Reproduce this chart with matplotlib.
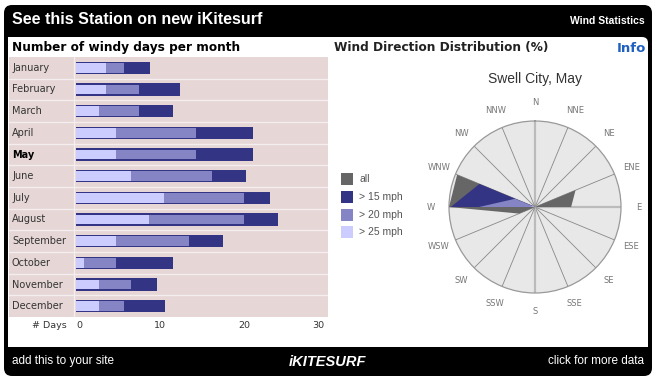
import numpy as np
import matplotlib.pyplot as plt
from matplotlib.patches import FancyBboxPatch, Rectangle

# --- datos: dias ventosos por mes (barras anidadas) ---
meses = ["January", "February", "March", "April", "May", "June", "July",
         "August", "September", "October", "November", "December"]
dias_15 = [8.8, 12.4, 11.5, 21.1, 21.1, 20.2, 23.1, 24.1, 17.5, 11.5, 9.7, 10.6]
dias_20 = [5.7, 7.5, 7.5, 14.3, 14.3, 16.2, 20.0, 20.0, 13.5, 4.8, 6.5, 5.7]
dias_25 = [3.6, 3.6, 2.7, 4.8, 4.8, 6.5, 10.5, 8.7, 4.8, 1.0, 2.7, 2.7]
mes_sel = "May"
ticks_dias = [0, 10, 20, 30]

# --- datos: rosa de vientos (fraccion del radio) ---
direcciones = ["N", "NNE", "NE", "ENE", "E", "ESE", "SE", "SSE",
               "S", "SSW", "SW", "WSW", "W", "WNW", "NW", "NNW"]
rosa_all = [0, 0, 0, 0.51, 0.42, 0, 0, 0, 0, 0, 0, 0.20, 1.0, 0.98, 0, 0]
rosa_15 = [0, 0, 0, 0, 0, 0, 0, 0, 0, 0, 0, 0, 0.98, 0.70, 0, 0]
rosa_20 = [0, 0, 0, 0, 0, 0, 0, 0, 0, 0, 0, 0, 0.65, 0.25, 0, 0]
rosa_25 = [0, 0, 0, 0, 0, 0, 0, 0, 0, 0, 0, 0, 0.06, 0.02, 0, 0]

C_OSC = "#343485"
C_MED = "#8585c6"
C_CLA = "#ccccff"
C_ALL = "#666666"

W, H = 656, 381
fig = plt.figure(figsize=(W / 100, H / 100), dpi=100)


def caja(x0, y0, x1, y1):
    # pixeles (origen arriba-izq) -> fraccion de figura
    return [x0 / W, 1 - y1 / H, (x1 - x0) / W, (y1 - y0) / H]


fondo = fig.add_axes([0, 0, 1, 1])
fondo.set_xlim(0, W)
fondo.set_ylim(H, 0)
fondo.axis("off")
fondo.add_patch(FancyBboxPatch((7, 8), W - 14, H - 16, boxstyle="round,pad=3,rounding_size=8",
                               fc="black", ec="none"))
fondo.add_patch(FancyBboxPatch((8, 37), 640, 310, boxstyle="round,pad=0,rounding_size=6",
                               fc="white", ec="none"))
fondo.add_patch(Rectangle((8, 37), 20, 20, fc="white", ec="none"))
fondo.add_patch(Rectangle((8, 330), 640, 17, fc="white", ec="none"))

fondo.text(12, 20, "See this Station on new iKitesurf", color="white", fontsize=11.5,
           fontweight="bold", family="Liberation Sans", va="center")
fondo.text(645, 21, "Wind Statistics", color="white", fontsize=7.5,
           fontweight="bold", family="Liberation Sans", va="center", ha="right")
fondo.text(12, 361, "add this to your site", color="white", fontsize=8.5,
           family="Liberation Sans", va="center")
fondo.text(644, 361, "click for more data", color="white", fontsize=8.5,
           family="Liberation Sans", va="center", ha="right")
fondo.text(327, 362, "iKITESURF", color="white", fontsize=10.5, fontweight="heavy",
           style="italic", family="Liberation Sans", va="center", ha="center")

fondo.text(12, 48, "Number of windy days per month", color="black", fontsize=8.7,
           fontweight="bold", family="DejaVu Sans", va="center")
fondo.text(334, 48, "Wind Direction Distribution (%)", color="#222222", fontsize=8.75,
           fontweight="bold", family="DejaVu Sans", va="center")
fondo.text(646, 48, "Info", color="#2060c0", fontsize=9.5,
           fontweight="bold", family="DejaVu Sans", va="center", ha="right")

# --- panel de barras ---
px_x0, px_x1, px_cero = 9, 328, 76
escala = (px_x1 - px_cero) / 30.0
ax = fig.add_axes(caja(px_x0, 57, px_x1, 317))
ax.set_xlim(-(px_cero - px_x0) / escala, 30)
ax.set_ylim(len(meses), 0)
ax.set_facecolor("#e6d6d6")
ax.set_xticks([])
ax.set_yticks([])
for s in ax.spines.values():
    s.set_visible(False)

pos = np.arange(len(meses)) + 0.5
ax.barh(pos, dias_15, height=0.58, color=C_OSC, left=0, zorder=2)
ax.barh(pos, dias_20, height=0.44, color=C_MED, left=0, zorder=3)
ax.barh(pos, dias_25, height=0.44, color=C_CLA, left=0, zorder=4)
for i in range(1, len(meses)):
    ax.axhline(i, color="#f4eeee", lw=1, zorder=1)
ax.axvline(-2 / escala, color="#f4eeee", lw=1, zorder=1)

for p, m in zip(pos, meses):
    ax.text(-(px_cero - 12) / escala, p, m, fontsize=7, va="center", ha="left",
            color="black" if m == mes_sel else "#333333",
            fontweight="bold" if m == mes_sel else "normal", family="DejaVu Sans")

for t in ticks_dias:
    xt = px_cero + t * escala
    fondo.text(min(xt, 318) + (3 if t == 0 else 0), 325, str(t), fontsize=6.8,
               color="#333333", ha="center", va="center", family="DejaVu Sans")
fondo.text(67, 325, "# Days", fontsize=6.8, color="#333333", ha="right", va="center",
           family="DejaVu Sans")

# --- rosa de vientos ---
cx, cy, rad = 535, 207, 86
axp = fig.add_axes(caja(cx - rad, cy - rad, cx + rad, cy + rad), projection="polar")
axp.set_theta_zero_location("N")
axp.set_theta_direction(-1)
axp.set_ylim(0, 1)
axp.set_facecolor("#e8e8e8")
axp.spines["polar"].set_color("#999999")
axp.spines["polar"].set_linewidth(0.9)
axp.set_xticks([])
axp.set_yticks([])
axp.grid(False)

ang = np.deg2rad(np.arange(16) * 22.5)
for k, a in enumerate(ang):
    if k % 4 == 0:
        axp.plot([a, a], [0, 1], color="#bbbbbb", lw=1.6, zorder=1)
    else:
        axp.plot([a, a], [0, 1], color="#888888", lw=0.6, zorder=1)

ang_c = np.append(ang, ang[0])
for vals, col, z in [(rosa_all, C_ALL, 3), (rosa_15, C_OSC, 4),
                     (rosa_20, C_MED, 5), (rosa_25, C_CLA, 6)]:
    v = np.append(vals, vals[0])
    axp.fill(ang_c, v, color=col, lw=0, zorder=z)

for a, d in zip(ang, direcciones):
    axp.text(a, 1.21, d, fontsize=6, color="#777777", ha="center", va="center",
             family="DejaVu Sans", clip_on=False)

fondo.text(cx, 79, "Swell City, May", fontsize=10, color="#333333", ha="center",
           va="center", family="Liberation Sans")

ley = [("all", C_ALL), ("> 15 mph", C_OSC), ("> 20 mph", C_MED), ("> 25 mph", C_CLA)]
for i, (txt, col) in enumerate(ley):
    yy = 179 + i * 17.8
    fondo.add_patch(Rectangle((341, yy - 6), 12, 12, fc=col, ec="none"))
    fondo.text(359, yy, txt, fontsize=7.5, color="#555555", va="center",
               family="Liberation Sans")

fig.savefig("out.png", dpi=100)
